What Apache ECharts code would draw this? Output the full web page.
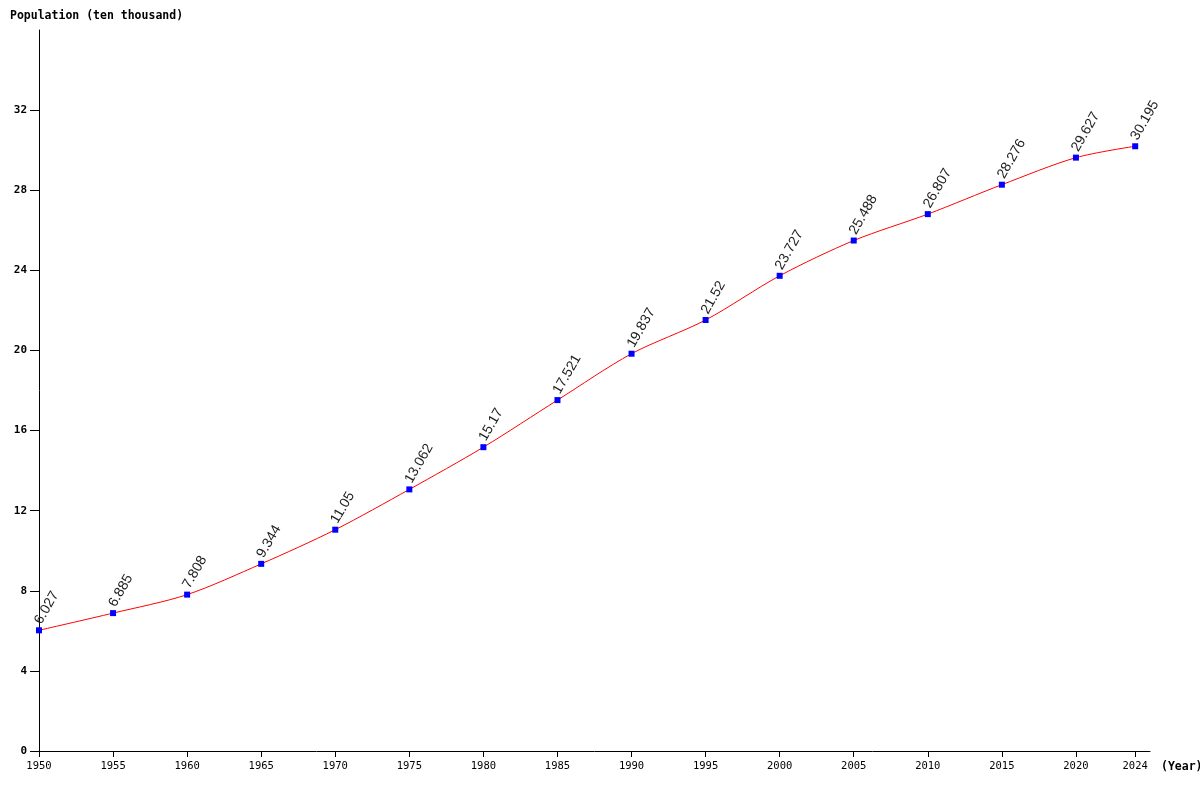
<!DOCTYPE html>
<html>
<head>
<meta charset="utf-8">
<script src="https://cdn.jsdelivr.net/npm/echarts@6/dist/echarts.min.js"></script>
<style>
  html, body { margin: 0; padding: 0; background: #fff; }
  #chart { width: 1200px; height: 800px; }
</style>
</head>
<body>
<div id="chart"></div>
<script>
let years = [1950, 1955, 1960, 1965, 1970, 1975, 1980, 1985, 1990, 1995, 2000, 2005, 2010, 2015, 2020, 2024];
let population = [6.027, 6.885, 7.808, 9.344, 11.05, 13.062, 15.17, 17.521, 19.837, 21.52, 23.727, 25.488, 26.807, 28.276, 29.627, 30.195];
let yTicks = [0, 4, 8, 12, 16, 20, 24, 28, 32];

let mono = '"DejaVu Sans Mono", monospace';
let chart = echarts.init(document.getElementById('chart'));

let option = {
    animation: false,
    grid: {
        left: 39,
        right: 50,
        top: 30,
        bottom: 49
    },
    graphic: [{
        type: 'text',
        left: 10,
        top: 10,
        style: {
            text: 'Population (ten thousand)',
            font: 'bold 11.5px ' + mono,
            fill: '#000'
        }
    }, {
        type: 'text',
        left: 1161,
        top: 761,
        style: {
            text: '(Year)',
            font: 'bold 11.5px ' + mono,
            fill: '#000'
        }
    }],
    xAxis: {
        type: 'value',
        min: 1950,
        max: 2025,
        interval: 5,
        splitLine: { show: false },
        axisLine: { lineStyle: { color: '#000', width: 1 } },
        axisTick: {
            length: 6,
            customValues: years,
            lineStyle: { color: '#000' }
        },
        axisLabel: {
            customValues: years,
            formatter: function (v) { return String(v); },
            color: '#000',
            fontFamily: mono,
            fontSize: 10.5,
            margin: 10
        }
    },
    yAxis: {
        type: 'value',
        min: 0,
        max: 36,
        interval: 4,
        splitLine: { show: false },
        axisLine: { show: true, lineStyle: { color: '#000', width: 1 } },
        axisTick: {
            length: 9,
            customValues: yTicks,
            lineStyle: { color: '#000' }
        },
        axisLabel: {
            customValues: yTicks,
            color: '#000',
            fontFamily: mono,
            fontWeight: 'bold',
            fontSize: 11,
            margin: 12
        }
    },
    series: [{
        type: 'line',
        smooth: 0.3,
        data: years.map(function (y, i) { return [y, population[i]]; }),
        symbol: 'rect',
        symbolSize: 6,
        itemStyle: { color: '#0000ff' },
        lineStyle: { color: '#ff0000', width: 1 },
        label: {
            show: true,
            position: 'top',
            distance: 6,
            offset: [-2, 0],
            rotate: 60,
            align: 'left',
            verticalAlign: 'middle',
            color: '#222',
            fontFamily: '"Liberation Sans", Arial, sans-serif',
            fontSize: 14,
            formatter: function (p) { return String(p.value[1]); }
        }
    }]
};

chart.setOption(option);
</script>
</body>
</html>
